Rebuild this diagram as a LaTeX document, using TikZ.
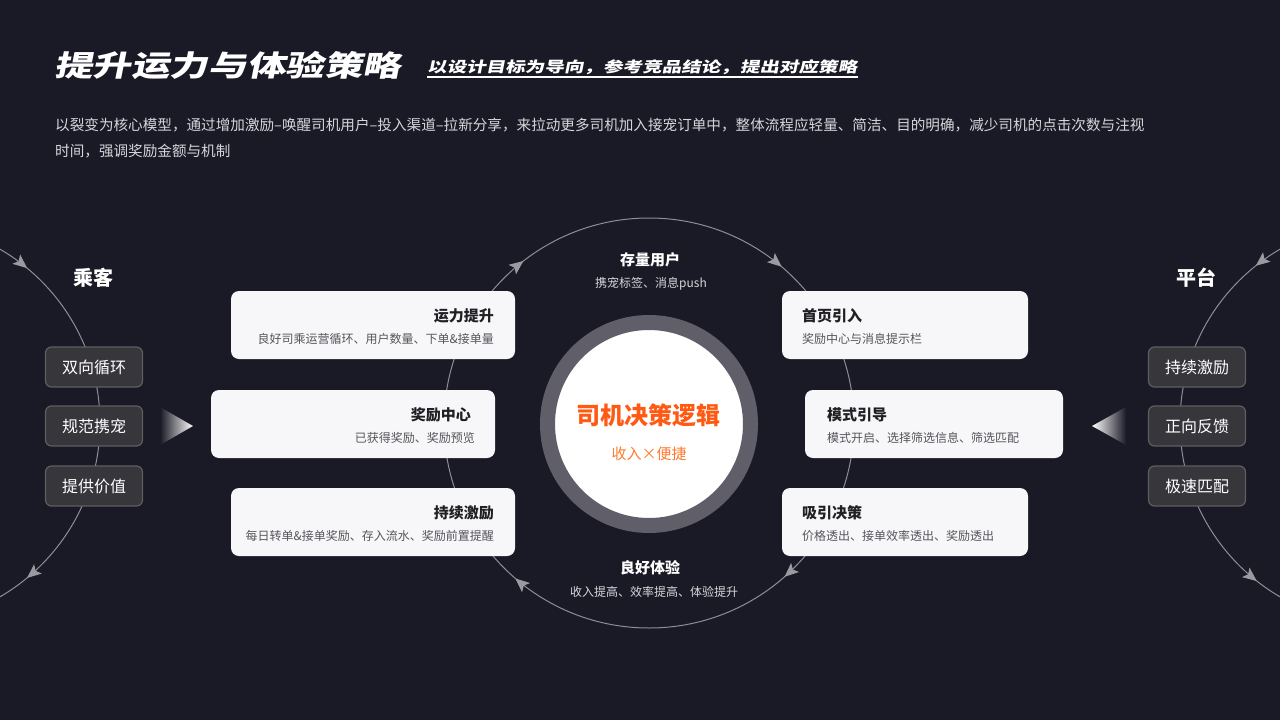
\documentclass[tikz,border=0pt]{standalone}
\usepackage{fontspec}
\setmainfont{Noto Sans CJK SC}
\newfontfamily\titlefont{Noto Sans CJK SC}[FakeSlant=0.2,FakeStretch=1.33]
\usetikzlibrary{arrows.meta,decorations.markings,positioning}
\definecolor{bgcol}{HTML}{1A1926}
\definecolor{cardcol}{HTML}{F7F7F9}
\definecolor{tagcol}{HTML}{37363B}
\definecolor{tagline}{HTML}{5E5D60}
\definecolor{ringcol}{HTML}{5F5E69}
\definecolor{linecol}{HTML}{8E8E96}
\definecolor{tipcol}{HTML}{9A9AA0}
\definecolor{headcol}{HTML}{1F1F24}
\definecolor{notecol}{HTML}{55555B}
\definecolor{introcol}{HTML}{D6D6DA}
\definecolor{corecol}{HTML}{FF5A14}
\definecolor{corenotecol}{HTML}{FF7A2E}

\begin{document}
\begin{tikzpicture}[x=1pt,y=-1pt,inner sep=0pt,
    cardbox/.style={fill=cardcol,rounded corners=8pt,minimum height=68pt},
    cardtitle/.style={font=\fontsize{15}{18}\selectfont\bfseries,text=headcol},
    cardnote/.style={font=\fontsize{12}{14}\selectfont,text=notecol},
    tagbox/.style={fill=tagcol,draw=tagline,line width=1.2pt,rounded corners=6pt,
        minimum width=97pt,minimum height=40pt,text=white,font=\fontsize{16}{18}\selectfont},
    sidename/.style={text=white,font=\fontsize{20}{22}\selectfont\bfseries},
    orbitname/.style={text=white,font=\fontsize{15}{18}\selectfont\bfseries},
    orbitnote/.style={text=introcol,font=\fontsize{12}{14}\selectfont},
    intro/.style={text=introcol,font=\fontsize{14.6}{16}\selectfont,anchor=west},
    loop/.style={draw=linecol,line width=1pt,postaction={decorate}},
    tiparrow/.tip={Stealth[length=14pt,width=12pt,inset=3pt,color=tipcol]}]
    \fill[bgcol] (0,0) rectangle (1280,720);
    \useasboundingbox (0,0) rectangle (1280,720);

    \node[anchor=west,text=white,font=\titlefont\bfseries\fontsize{29}{31}\selectfont] (title) at (54,65) {提升运力与体验策略};
    \node[anchor=west,inner ysep=2.5pt,text=white,font=\titlefont\bfseries\fontsize{14.7}{17}\selectfont] (subtitle) at (427,67) {以设计目标为导向，参考竞品结论，提出对应策略};
    \draw[white,line width=1.5pt] (subtitle.south west) -- (subtitle.south east);
    \node[intro] (intro1) at (55,125) {以裂变为核心模型，通过增加激励–唤醒司机用户–投入渠道–拉新分享，来拉动更多司机加入接宠订单中，整体流程应轻量、简洁、目的明确，减少司机的点击次数与注视};
    \node[intro] (intro2) at (55,151) {时间，强调奖励金额与机制};

    \coordinate (hub) at (649,423);
    \draw[loop,decoration={markings,
        mark=at position 0.135 with {\arrow{tiparrow}},
        mark=at position 0.363 with {\arrow{tiparrow}},
        mark=at position 0.645 with {\arrow{tiparrow}},
        mark=at position 0.862 with {\arrow{tiparrow}}}] (hub) circle[radius=205];
    \draw[loop,decoration={markings,
        mark=at position 0.14 with {\arrow{tiparrow}},
        mark=at position 0.86 with {\arrow{tiparrow}}}] (-101,423) circle[radius=201];
    \draw[loop,decoration={markings,
        mark=at position 0.356 with {\arrowreversed{tiparrow}},
        mark=at position 0.643 with {\arrowreversed{tiparrow}}}] (1381,423) circle[radius=201];

    \node[circle,fill=white,draw=ringcol,line width=15pt,minimum size=203pt] (core) at (649,424) {};
    \node[text=corecol,font=\fontsize{24}{28}\selectfont\bfseries] (coretitle) at (648,415) {司机决策逻辑};
    \node[text=corenotecol,font=\fontsize{15}{18}\selectfont] (corenote) at (649,454) {收入×便捷};

    \node[orbitname] (topname) at (650,260) {存量用户};
    \node[orbitnote] (topnote) at (651,284) {携宠标签、消息push};
    \node[orbitname] (bottomname) at (650,568) {良好体验};
    \node[orbitnote] (bottomnote) at (654,592) {收入提高、效率提高、体验提升};

    \node[cardbox,minimum width=284pt] (cardL1) at (373,325) {};
    \node[cardtitle,anchor=east] (headL1) at (494,316) {运力提升};
    \node[cardnote,anchor=east] (noteL1) at (494,339) {良好司乘运营循环、用户数量、下单\&接单量};
    \node[cardbox,minimum width=284pt] (cardL2) at (353,424) {};
    \node[cardtitle,anchor=east] (headL2) at (471,415) {奖励中心};
    \node[cardnote,anchor=east] (noteL2) at (475,438) {已获得奖励、奖励预览};
    \node[cardbox,minimum width=284pt] (cardL3) at (373,522) {};
    \node[cardtitle,anchor=east] (headL3) at (494,513) {持续激励};
    \node[cardnote,anchor=east] (noteL3) at (494,536) {每日转单\&接单奖励、存入流水、奖励前置提醒};

    \node[cardbox,minimum width=246pt] (cardR1) at (905,325) {};
    \node[cardtitle,anchor=west] (headR1) at (802,316) {首页引入};
    \node[cardnote,anchor=west] (noteR1) at (802,339) {奖励中心与消息提示栏};
    \node[cardbox,minimum width=258pt] (cardR2) at (934,424) {};
    \node[cardtitle,anchor=west] (headR2) at (827,415) {模式引导};
    \node[cardnote,anchor=west] (noteR2) at (827,438) {模式开启、选择筛选信息、筛选匹配};
    \node[cardbox,minimum width=246pt] (cardR3) at (905,522) {};
    \node[cardtitle,anchor=west] (headR3) at (802,513) {吸引决策};
    \node[cardnote,anchor=west] (noteR3) at (802,536) {价格透出、接单效率透出、奖励透出};

    \node[sidename] (passenger) at (93,278) {乘客};
    \node[tagbox] (tagL1) at (94,367) {双向循环};
    \node[tagbox] (tagL2) at (94,426) {规范携宠};
    \node[tagbox] (tagL3) at (94,486) {提供价值};
    \node[sidename] (platform) at (1196,278) {平台};
    \node[tagbox] (tagR1) at (1197,367) {持续激励};
    \node[tagbox] (tagR2) at (1197,426) {正向反馈};
    \node[tagbox] (tagR3) at (1197,486) {极速匹配};

    \shade[left color=bgcol,right color=white] (160,407) -- (193,426) -- (160,445) -- cycle;
    \shade[left color=white,right color=bgcol] (1126,407) -- (1092,426) -- (1126,445) -- cycle;
\end{tikzpicture}
\end{document}
